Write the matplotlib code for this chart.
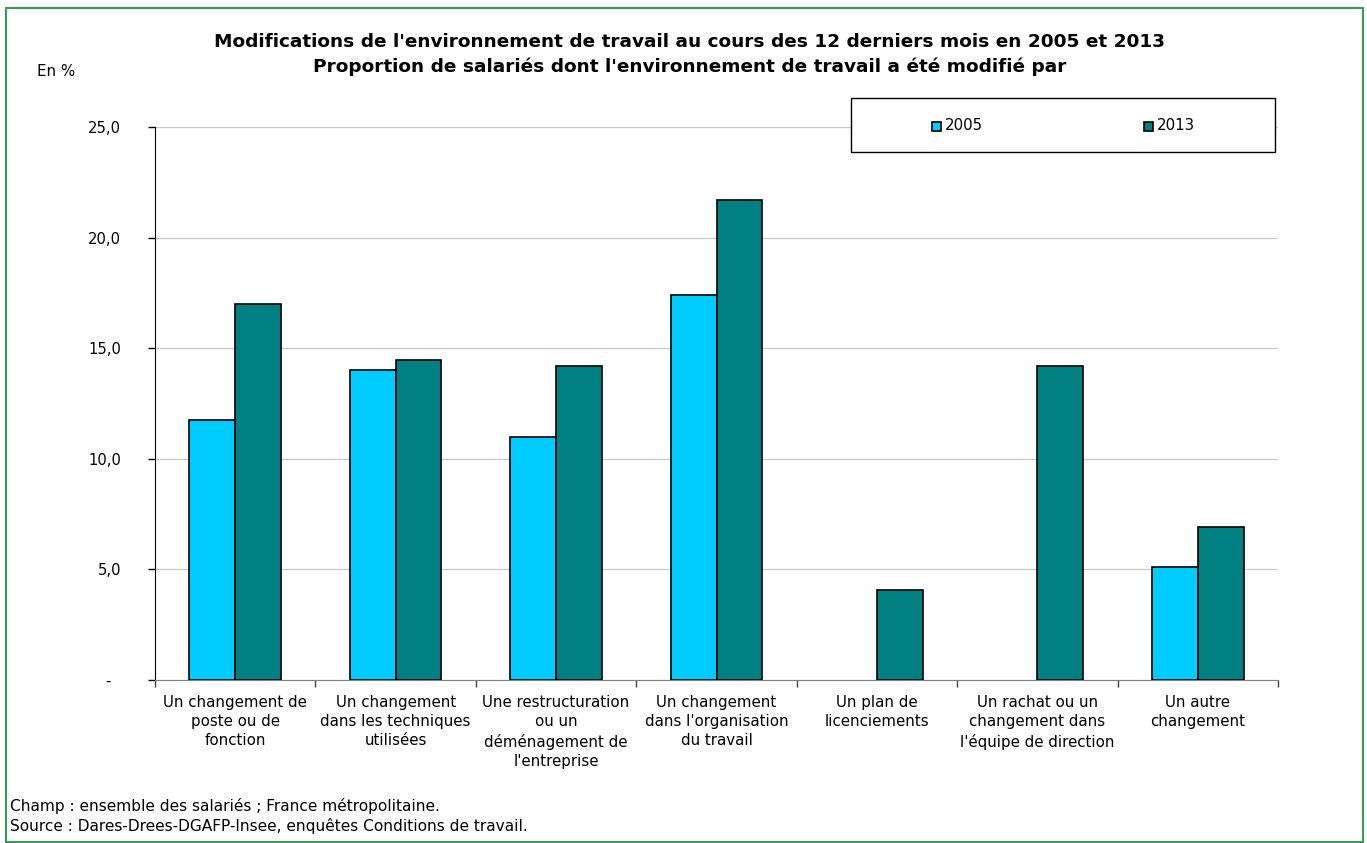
import matplotlib.pyplot as plt
import numpy as np
from matplotlib.patches import Rectangle

categories = [
    "Un changement de\nposte ou de\nfonction",
    "Un changement\ndans les techniques\nutilisées",
    "Une restructuration\nou un\ndéménagement de\nl'entreprise",
    "Un changement\ndans l'organisation\ndu travail",
    "Un plan de\nlicenciements",
    "Un rachat ou un\nchangement dans\nl'équipe de direction",
    "Un autre\nchangement",
]
values_2005 = [11.75, 14.0, 11.0, 17.4, np.nan, np.nan, 5.1]
values_2013 = [17.0, 14.45, 14.2, 21.7, 4.05, 14.2, 6.9]
yticks = [0, 5, 10, 15, 20, 25]

COL_2005 = "#00ccff"
COL_2013 = "#008080"

plt.rcParams["font.family"] = ["DejaVu Sans"]

fig = plt.figure(figsize=(13.67, 8.43), dpi=100)
W, H = 1367, 843
ax = fig.add_axes([155 / W, 1 - 680 / H, (1278 - 155) / W, (680 - 127) / H])

x = np.arange(len(categories))
bw = 0.285
ax.bar(x - bw / 2, values_2005, bw, color=COL_2005, edgecolor="black", linewidth=1.2, label="2005", zorder=3)
ax.bar(x + bw / 2, values_2013, bw, color=COL_2013, edgecolor="black", linewidth=1.2, label="2013", zorder=3)

ax.set_xlim(-0.5, len(categories) - 0.5)
ax.set_ylim(0, 25)
ax.set_yticks(yticks)
ax.set_yticklabels(["-  " if v == 0 else f"{v:.1f}".replace(".", ",") for v in yticks])
ax.yaxis.grid(True, color="#c8c8c8", linewidth=0.9, zorder=0)
ax.tick_params(axis="y", length=5, width=1, labelsize=10.6, pad=19.3, direction="out")

# category labels between boundary ticks
ax.set_xticks(np.arange(len(categories) + 1) - 0.5)
ax.set_xticklabels([])
ax.tick_params(axis="x", length=5, width=1, colors="#404040")
for i, c in enumerate(categories):
    ax.text(i, -0.7, c, ha="center", va="top", fontsize=10.8, linespacing=1.33,
            transform=ax.transData)

for s in ["top", "right"]:
    ax.spines[s].set_visible(False)
ax.spines["left"].set_color("black")
ax.spines["bottom"].set_color("#808080")

# legend box
fig.patches.append(Rectangle((851 / W, 1 - 152 / H), (1275 - 851) / W, (152 - 98) / H,
                             transform=fig.transFigure, facecolor="white", edgecolor="black",
                             linewidth=1, zorder=5))
for lx, col, lab in [(932, COL_2005, "2005"), (1144, COL_2013, "2013")]:
    fig.patches.append(Rectangle((lx / W, 1 - 131 / H), 9 / W, 9 / H,
                                 transform=fig.transFigure, facecolor=col, edgecolor="black",
                                 linewidth=1.2, zorder=6))
    fig.text((lx + 13) / W, 1 - 126 / H, lab, fontsize=10.8, va="center", ha="left", zorder=7)

fig.text(690 / W, 1 - 42 / H,
         "Modifications de l'environnement de travail au cours des 12 derniers mois en 2005 et 2013",
         ha="center", va="center", fontsize=13.3, fontweight="bold")
fig.text(690 / W, 1 - 67 / H,
         "Proportion de salariés dont l'environnement de travail a été modifié par",
         ha="center", va="center", fontsize=13.3, fontweight="bold")
fig.text(37 / W, 1 - 72 / H, "En %", ha="left", va="center", fontsize=10.8)

fig.text(10 / W, 1 - 806 / H, "Champ : ensemble des salariés ; France métropolitaine.",
         ha="left", va="center", fontsize=11.1)
fig.text(10 / W, 1 - 826 / H, "Source : Dares-Drees-DGAFP-Insee, enquêtes Conditions de travail.",
         ha="left", va="center", fontsize=11.1)

# green frame around the figure
fig.patches.append(Rectangle((6 / W, 1 / H), (1363 - 6) / W, (843 - 8 - 1) / H,
                             transform=fig.transFigure, fill=False, edgecolor="#3a9a5a",
                             linewidth=1.5))

fig.savefig("out.png", dpi=100)
